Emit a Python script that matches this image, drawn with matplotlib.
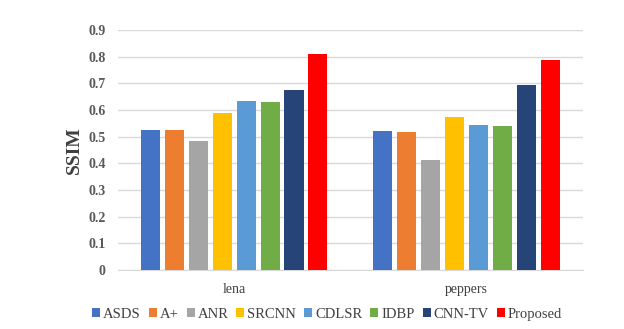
import matplotlib.pyplot as plt
import numpy as np

# data
images = ['lena', 'peppers']
methods = ['ASDS', 'A+', 'ANR', 'SRCNN', 'CDLSR', 'IDBP', 'CNN-TV', 'Proposed']
ssim_lena = [0.525, 0.525, 0.484, 0.590, 0.634, 0.630, 0.675, 0.810]
ssim_peppers = [0.520, 0.516, 0.411, 0.574, 0.542, 0.539, 0.694, 0.789]
colors = ['#4472C4', '#ED7D31', '#A5A5A5', '#FFC000', '#5B9BD5', '#70AD47', '#264478', '#FF0000']

plt.rcParams['font.family'] = ['Liberation Serif', 'DejaVu Serif']

fig = plt.figure(figsize=(6.24, 3.29), dpi=100)
ax = fig.add_axes([0.189, 0.179, 0.745, 0.73])

x = np.arange(len(images))
slot = 0.103
width = 0.082
for i, m in enumerate(methods):
    vals = [ssim_lena[i], ssim_peppers[i]]
    ax.bar(x + (i - 3.5) * slot, vals, width, color=colors[i], label=m, zorder=3)

ax.set_xlim(-0.5, 1.5)
ax.set_ylim(0, 0.9)
ax.set_yticks(np.arange(0, 0.91, 0.1))
ax.set_yticklabels(['0'] + ['%.1f' % v for v in np.arange(0.1, 0.91, 0.1)],
                   fontweight='bold', color='#595959', fontsize=10)
ax.set_xticks(x)
ax.set_xticklabels(images, color='#404040', fontsize=10)
ax.tick_params(axis='both', length=0)
ax.tick_params(axis='y', pad=9)
ax.tick_params(axis='x', pad=9)
ax.grid(axis='y', color='#D9D9D9', linewidth=1, zorder=0)
for s in ['top', 'right', 'left']:
    ax.spines[s].set_visible(False)
ax.spines['bottom'].set_color('#D9D9D9')
ax.set_ylabel('SSIM', fontsize=14, fontweight='bold', color='#404040', labelpad=4)

fig.legend(loc='lower center', bbox_to_anchor=(0.524, -0.015), ncol=8, frameon=False,
           fontsize=10.5, handlelength=0.55, handleheight=0.55, handletextpad=0.2,
           columnspacing=0.55, labelcolor='#404040')

fig.savefig('out.png', dpi=100)
